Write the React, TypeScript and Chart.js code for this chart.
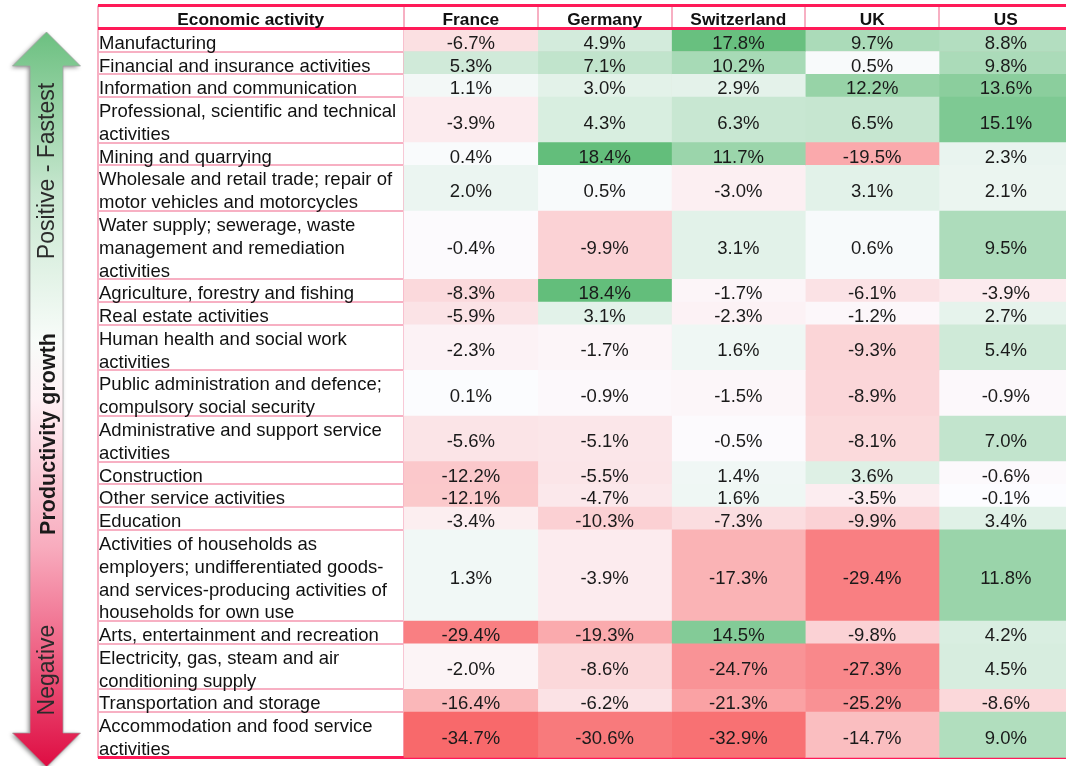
import React, { useEffect, useRef } from "react";
import { Chart, registerables } from "chart.js";

Chart.register(...registerables);

// ---------- data ----------
const countries = ["France", "Germany", "Switzerland", "UK", "US"];

const activityLabels: string[][] = [
  ["Manufacturing"],
  ["Financial and insurance activities"],
  ["Information and communication"],
  ["Professional, scientific and technical", "activities"],
  ["Mining and quarrying"],
  ["Wholesale and retail trade; repair of", "motor vehicles and motorcycles"],
  ["Water supply; sewerage, waste", "management and remediation", "activities"],
  ["Agriculture, forestry and fishing"],
  ["Real estate activities"],
  ["Human health and social work", "activities"],
  ["Public administration and defence;", "compulsory social security"],
  ["Administrative and support service", "activities"],
  ["Construction"],
  ["Other service activities"],
  ["Education"],
  [
    "Activities of households as",
    "employers; undifferentiated goods-",
    "and services-producing activities of",
    "households for own use",
  ],
  ["Arts, entertainment and recreation"],
  ["Electricity, gas, steam and air", "conditioning supply"],
  ["Transportation and storage"],
  ["Accommodation and food service", "activities"],
];

const france = [-6.7, 5.3, 1.1, -3.9, 0.4, 2.0, -0.4, -8.3, -5.9, -2.3, 0.1, -5.6, -12.2, -12.1, -3.4, 1.3, -29.4, -2.0, -16.4, -34.7];
const germany = [4.9, 7.1, 3.0, 4.3, 18.4, 0.5, -9.9, 18.4, 3.1, -1.7, -0.9, -5.1, -5.5, -4.7, -10.3, -3.9, -19.3, -8.6, -6.2, -30.6];
const switzerland = [17.8, 10.2, 2.9, 6.3, 11.7, -3.0, 3.1, -1.7, -2.3, 1.6, -1.5, -0.5, 1.4, 1.6, -7.3, -17.3, 14.5, -24.7, -21.3, -32.9];
const uk = [9.7, 0.5, 12.2, 6.5, -19.5, 3.1, 0.6, -6.1, -1.2, -9.3, -8.9, -8.1, 3.6, -3.5, -9.9, -29.4, -9.8, -27.3, -25.2, -14.7];
const us = [8.8, 9.8, 13.6, 15.1, 2.3, 2.1, 9.5, -3.9, 2.7, 5.4, -0.9, 7.0, -0.6, -0.1, 3.4, 11.8, 4.2, 4.5, -8.6, 9.0];

const seriesValues = [france, germany, switzerland, uk, us];
const headerLabel = "Economic activity";
const arrowTop = "Positive - Fastest";
const arrowMid = "Productivity growth";
const arrowBottom = "Negative";

// ---------- layout ----------
const FONT = '"Liberation Sans", Arial, Helvetica, sans-serif';
const HEADER_UNITS = 1.02; // header height in "line" units
const LABEL_COL_UNITS = 2.2916; // label column width in country-column units
const PINK = "#f7b0c3";
const CRIMSON = "#ff1a58";

const rowStarts: number[] = [];
let acc = 0;
activityLabels.forEach((l) => {
  rowStarts.push(acc);
  acc += l.length;
});
const TOTAL_LINES = acc;
const rowEnds = activityLabels.map((l, i) => rowStarts[i] + l.length);

const allVals = seriesValues.flat();
const minVal = Math.min(...allVals);
const maxVal = Math.max(...allVals);

function mix(a: number[], b: number[], t: number) {
  return `rgb(${Math.round(a[0] + (b[0] - a[0]) * t)},${Math.round(a[1] + (b[1] - a[1]) * t)},${Math.round(a[2] + (b[2] - a[2]) * t)})`;
}
function cellColor(v: number) {
  const lo = [248, 105, 107];
  const mid = [252, 252, 255];
  const hi = [99, 190, 123];
  if (v < 0) return mix(mid, lo, v / minVal);
  return mix(mid, hi, v / maxVal);
}

const tablePlugin = {
  id: "tableText",
  beforeDraw(chart: any) {
    const ctx = chart.ctx as CanvasRenderingContext2D;
    ctx.save();
    const cx = 46.5;
    const top = 32;
    const bot = 767;
    const headH = 34;
    const hw = 34;
    const sw = 16.5;
    ctx.beginPath();
    ctx.moveTo(cx, top);
    ctx.lineTo(cx + hw, top + headH);
    ctx.lineTo(cx + sw, top + headH);
    ctx.lineTo(cx + sw, bot - headH);
    ctx.lineTo(cx + hw, bot - headH);
    ctx.lineTo(cx, bot);
    ctx.lineTo(cx - hw, bot - headH);
    ctx.lineTo(cx - sw, bot - headH);
    ctx.lineTo(cx - sw, top + headH);
    ctx.lineTo(cx - hw, top + headH);
    ctx.closePath();
    const g = ctx.createLinearGradient(0, top, 0, bot);
    g.addColorStop(0, "rgb(108,192,128)");
    g.addColorStop(0.22, "rgb(200,231,208)");
    g.addColorStop(0.42, "rgb(248,252,249)");
    g.addColorStop(0.5, "rgb(254,240,244)");
    g.addColorStop(0.7, "rgb(248,172,190)");
    g.addColorStop(0.85, "rgb(238,95,130)");
    g.addColorStop(1, "rgb(222,12,66)");
    ctx.shadowColor = "rgba(0,0,0,0.45)";
    ctx.shadowBlur = 4;
    ctx.shadowOffsetX = -1.5;
    ctx.shadowOffsetY = 1.5;
    ctx.fillStyle = g;
    ctx.fill();
    ctx.shadowColor = "transparent";
    ctx.strokeStyle = "rgba(160,160,160,0.7)";
    ctx.lineWidth = 1;
    ctx.stroke();

    const rot = (text: string, x: number, y: number, font: string, color: string) => {
      ctx.save();
      ctx.translate(x, y);
      ctx.rotate(-Math.PI / 2);
      ctx.font = font;
      ctx.fillStyle = color;
      ctx.textAlign = "center";
      ctx.textBaseline = "alphabetic";
      ctx.fillText(text, 0, 0);
      ctx.restore();
    };
    rot(arrowTop, 54, 171, `23px ${FONT}`, "#2b2b2b");
    rot(arrowMid, 55, 434, `bold 21.5px ${FONT}`, "#1a1a1a");
    rot(arrowBottom, 54, 670, `23px ${FONT}`, "#2b2b2b");
    ctx.restore();
  },
  afterDraw(chart: any) {
    const ctx = chart.ctx as CanvasRenderingContext2D;
    const xs = chart.scales.x;
    const ys = chart.scales.y;
    const lineH = Math.abs(ys.getPixelForValue(1) - ys.getPixelForValue(0));
    ctx.save();
    ctx.fillStyle = "#111";
    // header
    ctx.font = `bold 17.3px ${FONT}`;
    ctx.textAlign = "center";
    ctx.textBaseline = "alphabetic";
    const hy = (ys.getPixelForValue(-HEADER_UNITS) + ys.getPixelForValue(0)) / 2 + 7.6;
    ctx.fillText(headerLabel, (xs.getPixelForValue(-LABEL_COL_UNITS) + xs.getPixelForValue(0)) / 2, hy);
    countries.forEach((c, j) => {
      ctx.fillText(c, xs.getPixelForValue(j + 0.5), hy);
    });
    // row labels
    ctx.font = `18.5px ${FONT}`;
    ctx.textAlign = "left";
    const lx = xs.getPixelForValue(-LABEL_COL_UNITS) + 1.5;
    activityLabels.forEach((lines, i) => {
      lines.forEach((ln, k) => {
        const y = ys.getPixelForValue(rowStarts[i] + k + 0.5) + 0.38 * lineH;
        ctx.fillText(ln, lx, y);
      });
    });
    // values
    ctx.textAlign = "center";
    ctx.fillStyle = "#1a1a1a";
    seriesValues.forEach((vals, j) => {
      vals.forEach((v, i) => {
        const y = ys.getPixelForValue((rowStarts[i] + rowEnds[i]) / 2) + 0.38 * lineH;
        ctx.fillText(`${v.toFixed(1)}%`, xs.getPixelForValue(j + 0.5), y);
      });
    });
    ctx.restore();
  },
};

export default function App() {
  const ref = useRef<HTMLCanvasElement>(null);

  useEffect(() => {
    if (!ref.current) return;
    const xBounds = [-LABEL_COL_UNITS, ...countries.map((_, j) => j), countries.length];
    const yBounds = [-HEADER_UNITS, 0, ...rowEnds];
    const thick = (v: number) => Math.abs(v + HEADER_UNITS) < 1e-6 || v === 0 || v === TOTAL_LINES;

    const chart = new Chart(ref.current, {
      type: "bar",
      data: {
        datasets: countries.map((c, j) => ({
          label: c,
          data: seriesValues[j].map((_, i) => ({ x: j + 0.5, y: [rowStarts[i], rowEnds[i]] })) as any,
          backgroundColor: seriesValues[j].map((v) => cellColor(v)),
          borderWidth: 0,
          grouped: false,
          barPercentage: 1,
          categoryPercentage: 1,
        })),
      },
      options: {
        animation: false,
        responsive: false,
        devicePixelRatio: 1,
        layout: { padding: { left: 97.5, top: 5.5, right: 7.25, bottom: 8.3 } },
        plugins: { legend: { display: false }, tooltip: { enabled: false } },
        scales: {
          x: {
            type: "linear",
            min: -LABEL_COL_UNITS,
            max: countries.length,
            offset: false,
            z: 1,
            afterBuildTicks: (s: any) => {
              s.ticks = xBounds.map((v) => ({ value: v }));
            },
            afterFit: (s: any) => {
              s.height = 0;
            },
            ticks: { display: false },
            border: { display: false },
            grid: { offset: false, drawTicks: false, color: PINK, lineWidth: 2 },
          },
          y: {
            type: "linear",
            reverse: true,
            min: -HEADER_UNITS,
            max: TOTAL_LINES,
            z: 2,
            afterBuildTicks: (s: any) => {
              s.ticks = yBounds.map((v) => ({ value: v }));
            },
            afterFit: (s: any) => {
              s.width = 0;
            },
            ticks: { display: false },
            border: { display: false },
            grid: {
              drawTicks: false,
              color: (ctx: any) => (thick(ctx.tick.value) ? CRIMSON : PINK),
              lineWidth: (ctx: any) => (thick(ctx.tick.value) ? 3 : 2),
            },
          },
        },
      },
      plugins: [tablePlugin],
    });
    return () => chart.destroy();
  }, []);

  return (
    <div
      style={{
        position: "fixed",
        left: 0,
        top: 0,
        width: 1066,
        height: 766,
        overflow: "hidden",
        background: "#fff",
      }}
    >
      <canvas ref={ref} width={1080} height={766} style={{ display: "block", width: 1080, height: 766 }} />
    </div>
  );
}
